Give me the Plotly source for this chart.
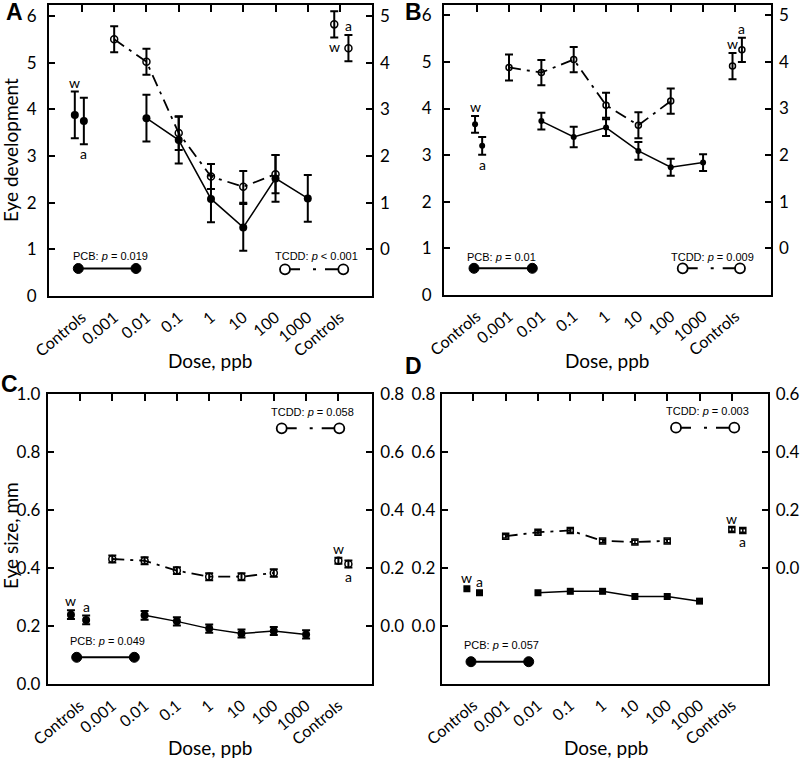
import plotly.graph_objects as go

# ---------------- data ----------------
dose_labels = ["Controls", "0.001", "0.01", "0.1", "1", "10", "100", "1000", "Controls"]
pcb_dose_idx = [2, 3, 4, 5, 6, 7]      # 0.01 ... 1000
tcdd_dose_idx = [1, 2, 3, 4, 5, 6]     # 0.001 ... 100
ctrl_pcb_idx = 0
ctrl_tcdd_idx = 8
ctrl_names = ["w", "a"]

# Panel A – eye development
a_pcb = [3.81, 3.34, 2.08, 1.47, 2.52, 2.09]
a_pcb_err = [0.50, 0.50, 0.50, 0.50, 0.50, 0.50]
a_pcb_ctrl = [3.88, 3.75]
a_pcb_ctrl_err = [0.50, 0.50]
a_tcdd = [4.50, 4.02, 2.49, 1.56, 1.34, 1.61]
a_tcdd_err = [0.28, 0.28, 0.36, 0.27, 0.34, 0.41]
a_tcdd_ctrl = [4.82, 4.31]
a_tcdd_ctrl_err = [0.28, 0.28]

# Panel B – eye development
b_pcb = [3.73, 3.39, 3.59, 3.09, 2.74, 2.84]
b_pcb_err = [0.18, 0.22, 0.18, 0.19, 0.18, 0.18]
b_pcb_ctrl = [3.66, 3.20]
b_pcb_ctrl_err = [0.18, 0.19]
b_tcdd = [3.88, 3.77, 4.05, 3.07, 2.64, 3.16]
b_tcdd_err = [0.28, 0.27, 0.27, 0.27, 0.28, 0.27]
b_tcdd_ctrl = [3.91, 4.26]
b_tcdd_ctrl_err = [0.28, 0.26]

# Panel C – eye size, mm
c_pcb = [0.238, 0.217, 0.192, 0.175, 0.184, 0.172]
c_pcb_err = [0.015, 0.014, 0.014, 0.014, 0.014, 0.014]
c_pcb_ctrl = [0.240, 0.222]
c_pcb_ctrl_err = [0.015, 0.015]
c_tcdd = [0.232, 0.226, 0.192, 0.171, 0.171, 0.184]
c_tcdd_err = [0.012, 0.012, 0.012, 0.012, 0.012, 0.013]
c_tcdd_ctrl = [0.226, 0.215]
c_tcdd_ctrl_err = [0.010, 0.012]

# Panel D – eye size, mm
d_pcb = [0.115, 0.120, 0.120, 0.102, 0.102, 0.086]
d_pcb_err = [0.006, 0.006, 0.006, 0.006, 0.006, 0.006]
d_pcb_ctrl = [0.129, 0.115]
d_pcb_ctrl_err = [0.005, 0.005]
d_tcdd = [0.110, 0.124, 0.130, 0.094, 0.090, 0.094]
d_tcdd_err = [0.006, 0.006, 0.006, 0.006, 0.006, 0.006]
d_tcdd_ctrl = [0.133, 0.130]
d_tcdd_ctrl_err = [0.006, 0.006]

pvals = {"A": ("= 0.019", "< 0.001"), "B": ("= 0.01", "= 0.009"),
         "C": ("= 0.049", "= 0.058"), "D": ("= 0.057", "= 0.003")}

# ---------------- layout / style (pixels) ----------------
W, H = 800, 758
def px(x): return x / W
def py(y): return 1 - y / H

panels = [
    dict(letter="A", dom=(49, 372, 5, 296), xr=(-1.02, 8.99), yl=(0, 6.235), yr=(-1, 5.235),
         ltv=[0, 1, 2, 3, 4, 5, 6], rtv=[0, 1, 2, 3, 4, 5], fmt="", std=7,
         pcb=a_pcb, pcb_err=a_pcb_err, pcb_ctrl=a_pcb_ctrl, pcb_ctrl_err=a_pcb_ctrl_err,
         tcdd=a_tcdd, tcdd_err=a_tcdd_err, tcdd_ctrl=a_tcdd_ctrl, tcdd_ctrl_err=a_tcdd_ctrl_err,
         off_pcb=(-0.22, 0.06), off_tcdd=(-0.18, 0.26), lab=("above", "below", "below", "above"),
         sym=("circle", "circle-open"), msz=(8, 7), eth=2, ew=4,
         leg=dict(pt=(110, 256), pc=(78.3, 136, 268.5), tt=(316.7, 256), tc=(285, 343.3, 269.3)),
         letter_xy=(14, 12), title_xy=(210, 360), ytitle=("Eye development", 10, 150)),
    dict(letter="B", dom=(444, 771, 5, 295), xr=(-1.01, 9.1), yl=(0, 6.22), yr=(-1, 5.22),
         ltv=[0, 1, 2, 3, 4, 5, 6], rtv=[0, 1, 2, 3, 4, 5], fmt="", std=7,
         pcb=b_pcb, pcb_err=b_pcb_err, pcb_ctrl=b_pcb_ctrl, pcb_ctrl_err=b_pcb_ctrl_err,
         tcdd=b_tcdd, tcdd_err=b_tcdd_err, tcdd_ctrl=b_tcdd_ctrl, tcdd_ctrl_err=b_tcdd_ctrl_err,
         off_pcb=(-0.05, 0.17), off_tcdd=(-0.09, 0.2), lab=("above", "below", "above", "above"),
         sym=("circle", "circle-open"), msz=(6, 6), eth=2, ew=4,
         leg=dict(pt=(501.7, 256.7), pc=(474, 532.3, 268.3), tt=(712.5, 256.7), tc=(682.7, 740, 268.3)),
         letter_xy=(414, 12), title_xy=(607, 360), ytitle=None),
    dict(letter="C", dom=(47.7, 372.3, 394.3, 684.3), xr=(-1.0, 9.05), yl=(0, 1.0), yr=(-0.2, 0.8),
         ltv=[0, 0.2, 0.4, 0.6, 0.8, 1.0], rtv=[0, 0.2, 0.4, 0.6, 0.8], fmt=".1f", std=2,
         pcb=c_pcb, pcb_err=c_pcb_err, pcb_ctrl=c_pcb_ctrl, pcb_ctrl_err=c_pcb_ctrl_err,
         tcdd=c_tcdd, tcdd_err=c_tcdd_err, tcdd_ctrl=c_tcdd_ctrl, tcdd_ctrl_err=c_tcdd_ctrl_err,
         off_pcb=(-0.28, 0.19), off_tcdd=(0.0, 0.31), lab=("above", "above", "above", "below"),
         sym=("circle", "circle-open"), msz=(8, 7), eth=2, ew=4,
         leg=dict(pt=(107.5, 640.7), pc=(76.7, 134.3, 657.3), tt=(312.5, 411.7), tc=(281.7, 339.3, 428.3)),
         letter_xy=(9, 384), title_xy=(210, 747), ytitle=("Eye size, mm", 10, 536)),
    dict(letter="D", dom=(441.7, 767.7, 394.3, 684), xr=(-0.98, 9.11), yl=(-0.2, 0.8), yr=(-0.4, 0.6),
         ltv=[0, 0.2, 0.4, 0.6, 0.8], rtv=[0, 0.2, 0.4, 0.6], fmt=".1f", std=1,
         pcb=d_pcb, pcb_err=d_pcb_err, pcb_ctrl=d_pcb_ctrl, pcb_ctrl_err=d_pcb_ctrl_err,
         tcdd=d_tcdd, tcdd_err=d_tcdd_err, tcdd_ctrl=d_tcdd_ctrl, tcdd_ctrl_err=d_tcdd_ctrl_err,
         off_pcb=(-0.2, 0.19), off_tcdd=(0.0, 0.34), lab=("above", "above", "above", "below"),
         sym=("square", "square-open"), msz=(7, 6), eth=1.5, ew=3,
         leg=dict(pt=(501.7, 645), pc=(471, 528.7, 661.7), tt=(707, 410.7), tc=(676, 734.3, 427.7)),
         letter_xy=(413, 366), title_xy=(606, 747), ytitle=None),
]

FONT = "Lato"
SMALL = "Liberation Sans"
TDASH = "12px,6px,3px,6px"
LEG_DASH = "15px,13px,3px,9px,30px"

fig = go.Figure()
layout = dict(template="none", width=W, height=H, margin=dict(l=0, r=0, t=0, b=0, autoexpand=False),
              paper_bgcolor="white", plot_bgcolor="white", showlegend=False)
annotations, shapes = [], []

def name(prefix, n):
    return prefix + ("" if n == 1 else str(n))

def ann(x, y, text, size, family=FONT, **kw):
    d = dict(x=px(x), y=py(y), xref="paper", yref="paper", text=text, showarrow=False,
             xanchor="center", yanchor="middle",
             font=dict(family=family, size=size, color="black"))
    d.update(kw)
    return d

for i, p in enumerate(panels):
    nb, nt = i + 1, i + 5
    xb, yl_, xt, yr_ = name("x", nb), name("y", nb), name("x", nt), name("y", nt)
    x0, x1, y0, y1 = p["dom"]
    tick_font = dict(family=FONT, size=17, color="black")
    layout[name("xaxis", nb)] = dict(
        domain=[px(x0), px(x1)], anchor=yl_, range=list(p["xr"]), automargin=False,
        tickmode="array", tickvals=list(range(len(dose_labels))), ticktext=dose_labels,
        ticks="", tickangle=-40, tickfont=dict(family=FONT, size=16, color="black"),
        ticklabelstandoff=4, showline=True, mirror=True, linewidth=2, linecolor="black",
        showgrid=False, zeroline=False)
    layout[name("yaxis", nb)] = dict(
        domain=[py(y1), py(y0)], anchor=xb, range=list(p["yl"]), automargin=False,
        tickmode="array", tickvals=p["ltv"], tickformat=p["fmt"], ticks="inside", ticklen=6,
        tickwidth=1.5, tickcolor="black", tickfont=tick_font, ticklabelstandoff=p["std"],
        showline=True, mirror=True, linewidth=2, linecolor="black",
        showgrid=False, zeroline=False)
    layout[name("xaxis", nt)] = dict(
        overlaying=xb, side="top", anchor=yr_, range=list(p["xr"]), automargin=False,
        tickmode="array", tickvals=list(range(len(dose_labels))), showticklabels=False,
        ticks="inside", ticklen=7, tickwidth=1.5, tickcolor="black",
        showline=False, showgrid=False, zeroline=False)
    layout[name("yaxis", nt)] = dict(
        overlaying=yl_, side="right", anchor=xt, range=list(p["yr"]), automargin=False,
        tickmode="array", tickvals=p["rtv"], tickformat=p["fmt"], ticks="inside", ticklen=6,
        tickwidth=1.5, tickcolor="black", tickfont=tick_font, ticklabelstandoff=7,
        showline=False, showgrid=False, zeroline=False)

    def err(arr):
        return dict(type="data", array=arr, visible=True, color="black",
                    thickness=p["eth"], width=p["ew"])

    # PCB dose-response (left axis, bottom x)
    fig.add_trace(go.Scatter(
        x=pcb_dose_idx, y=p["pcb"], error_y=err(p["pcb_err"]), mode="lines+markers",
        line=dict(color="black", width=1.5),
        marker=dict(symbol=p["sym"][0], size=p["msz"][0], color="black"),
        xaxis=xb, yaxis=yl_))
    # PCB controls
    fig.add_trace(go.Scatter(
        x=[ctrl_pcb_idx + o for o in p["off_pcb"]], y=p["pcb_ctrl"],
        error_y=err(p["pcb_ctrl_err"]), mode="markers",
        marker=dict(symbol=p["sym"][0], size=p["msz"][0], color="black"),
        xaxis=xb, yaxis=yl_))
    # TCDD dose-response (right axis, top x)
    fig.add_trace(go.Scatter(
        x=tcdd_dose_idx, y=p["tcdd"], error_y=err(p["tcdd_err"]), mode="lines+markers",
        line=dict(color="black", width=1.8, dash=TDASH),
        marker=dict(symbol=p["sym"][1], size=p["msz"][1], color="black", line=dict(width=1.5)),
        xaxis=xt, yaxis=yr_))
    # TCDD controls
    fig.add_trace(go.Scatter(
        x=[ctrl_tcdd_idx + o for o in p["off_tcdd"]], y=p["tcdd_ctrl"],
        error_y=err(p["tcdd_ctrl_err"]), mode="markers",
        marker=dict(symbol=p["sym"][1], size=p["msz"][1], color="black", line=dict(width=1.5)),
        xaxis=xt, yaxis=yr_))

    # w / a labels next to controls
    groups = [(ctrl_pcb_idx, p["off_pcb"], p["pcb_ctrl"], p["pcb_ctrl_err"], xb, yl_),
              (ctrl_tcdd_idx, p["off_tcdd"], p["tcdd_ctrl"], p["tcdd_ctrl_err"], xt, yr_)]
    k = 0
    for base, offs, vals, errs, xa, ya in groups:
        for j in range(2):
            pos = p["lab"][k]
            k += 1
            yv = vals[j] + errs[j] if pos == "above" else vals[j] - errs[j]
            annotations.append(dict(
                x=base + offs[j], y=yv, xref=xa, yref=ya, text=ctrl_names[j], showarrow=False,
                xanchor="center", yanchor="bottom" if pos == "above" else "top",
                yshift=-1 if pos == "above" else 1,
                font=dict(family=FONT, size=14, color="black")))

    # legend keys
    L = p["leg"]
    pv = pvals[p["letter"]]
    annotations.append(ann(L["pt"][0], L["pt"][1], f"PCB: <i>p</i> {pv[0]}", 11, SMALL))
    annotations.append(ann(L["tt"][0], L["tt"][1], f"TCDD: <i>p</i> {pv[1]}", 11, SMALL))
    cx0, cx1, cy = L["pc"]
    shapes.append(dict(type="line", xref="paper", yref="paper", x0=px(cx0), x1=px(cx1),
                       y0=py(cy), y1=py(cy), line=dict(color="black", width=2)))
    for cx in (cx0, cx1):
        shapes.append(dict(type="circle", xref="paper", yref="paper", xsizemode="pixel",
                           ysizemode="pixel", xanchor=px(cx), yanchor=py(cy),
                           x0=-5, x1=5, y0=-5, y1=5, fillcolor="black",
                           line=dict(color="black", width=1)))
    tx0, tx1, ty = L["tc"]
    shapes.append(dict(type="line", xref="paper", yref="paper", x0=px(tx0), x1=px(tx1),
                       y0=py(ty), y1=py(ty), line=dict(color="black", width=2, dash=LEG_DASH)))
    for cx in (tx0, tx1):
        shapes.append(dict(type="circle", xref="paper", yref="paper", xsizemode="pixel",
                           ysizemode="pixel", xanchor=px(cx), yanchor=py(ty),
                           x0=-5, x1=5, y0=-5, y1=5, fillcolor="white",
                           line=dict(color="black", width=1.8)))

    # panel letter, axis titles
    lx, ly = p["letter_xy"]
    annotations.append(ann(lx, ly, f"<b>{p['letter']}</b>", 23, "Liberation Sans"))
    tx, ty2 = p["title_xy"]
    annotations.append(ann(tx, ty2, "Dose, ppb", 19))
    if p["ytitle"]:
        t, yx, yy = p["ytitle"]
        annotations.append(ann(yx, yy, t, 19, textangle=-90))

layout["annotations"] = annotations
layout["shapes"] = shapes
fig.update_layout(**layout)
fig.write_html("out.html", config={"displayModeBar": False},
               post_script="document.body.style.margin='0px';")
